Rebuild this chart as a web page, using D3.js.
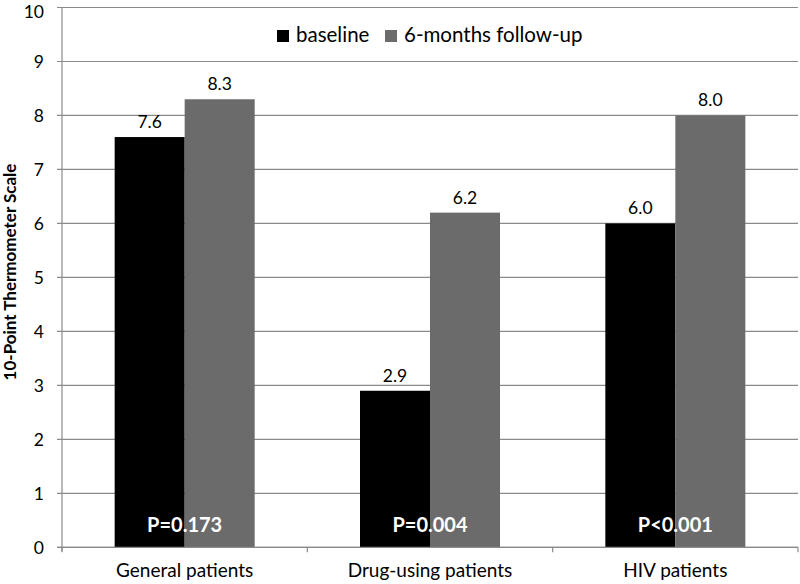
<!DOCTYPE html>
<html><head><meta charset="utf-8">
<script src="https://cdn.jsdelivr.net/npm/d3@7"></script>
<style>body{margin:0;background:#fff}svg{display:block}text{font-family:Lato,"Open Sans",sans-serif}</style>
</head><body>
<svg id="c" width="800" height="584"></svg>
<script>
const categories = ["General patients", "Drug-using patients", "HIV patients"];
const seriesNames = ["baseline", "6-months follow-up"];
const baseline = [7.6, 2.9, 6.0];
const followUp = [8.3, 6.2, 8.0];
const pValues = ["P=0.173", "P=0.004", "P<0.001"];
const yTicks = [0,1,2,3,4,5,6,7,8,9,10];
const colors = ["#000000", "#6b6b6b"];

const svg = d3.select("#c");
const L = 62, R = 798, T = 7.5, B = 547.3;
const x = d3.scaleBand().domain(categories).range([L, R]);
const xs = d3.scaleBand().domain(seriesNames).range([0, 140]);
const y = d3.scaleLinear().domain([0, 10]).range([B, T]);
const grid = "#8a8a8a";

// gridlines
svg.append("g").selectAll("line").data(yTicks).join("line")
  .attr("x1", L - 5).attr("x2", R).attr("y1", d => y(d)).attr("y2", d => y(d))
  .attr("stroke", grid).attr("stroke-width", 1.2);
// y tick labels (baseline kept low enough that the top label stays inside the picture)
svg.append("g").selectAll("text").data(yTicks).join("text")
  .attr("x", 44).attr("y", d => Math.max(y(d) + 6.3, 17.5))
  .attr("text-anchor", "end").attr("font-size", 17.5).attr("fill", "#000").text(d => d);

// bars
const series = [baseline, followUp];
series.forEach((vals, si) => {
  svg.append("g").selectAll("rect").data(categories).join("rect")
    .attr("x", c => x(c) + (x.bandwidth() - 140) / 2 + xs(seriesNames[si]))
    .attr("width", xs.bandwidth())
    .attr("y", (c, i) => y(vals[i]))
    .attr("height", (c, i) => B - y(vals[i]))
    .attr("fill", colors[si]);
  svg.append("g").selectAll("text").data(categories).join("text")
    .attr("x", c => x(c) + (x.bandwidth() - 140) / 2 + xs(seriesNames[si]) + xs.bandwidth() / 2)
    .attr("y", (c, i) => y(vals[i]) - 9)
    .attr("text-anchor", "middle").attr("font-size", 17.5).attr("fill", "#000")
    .text((c, i) => vals[i].toFixed(1));
});

// axes lines
svg.append("line").attr("x1", L).attr("x2", L).attr("y1", T).attr("y2", B + 4).attr("stroke", grid).attr("stroke-width", 1.2);
svg.append("line").attr("x1", L - 5).attr("x2", R).attr("y1", B).attr("y2", B).attr("stroke", grid).attr("stroke-width", 1.2);
const bounds = categories.map(c => x(c)).concat([R]);
svg.append("g").selectAll("line").data(bounds).join("line")
  .attr("x1", d => d).attr("x2", d => d).attr("y1", B).attr("y2", B + 5)
  .attr("stroke", grid).attr("stroke-width", 1.2);

// category labels
svg.append("g").selectAll("text").data(categories).join("text")
  .attr("x", c => x(c) + x.bandwidth() / 2).attr("y", 577)
  .attr("text-anchor", "middle").attr("font-size", 19).attr("fill", "#000").text(c => c);

// p values
svg.append("g").selectAll("text").data(categories).join("text")
  .attr("x", c => x(c) + x.bandwidth() / 2).attr("y", 532)
  .attr("text-anchor", "middle").attr("font-size", 20).attr("font-weight", "bold").attr("fill", "#fff")
  .text((c, i) => pValues[i]);

// y title
svg.append("text").attr("transform", "translate(16,272) rotate(-90)")
  .attr("text-anchor", "middle").attr("font-size", 17).attr("font-weight", "bold").attr("fill", "#000")
  .text("10-Point Thermometer Scale");

// legend
const lg = svg.append("g");
const lx = [277, 385];
seriesNames.forEach((s, i) => {
  lg.append("rect").attr("x", lx[i]).attr("y", 30).attr("width", 12).attr("height", 12).attr("fill", colors[i]);
  lg.append("text").attr("x", lx[i] + 19).attr("y", 41.5)
    .attr("font-size", 20.5).attr("fill", "#000").text(s);
});
</script>
</body></html>
